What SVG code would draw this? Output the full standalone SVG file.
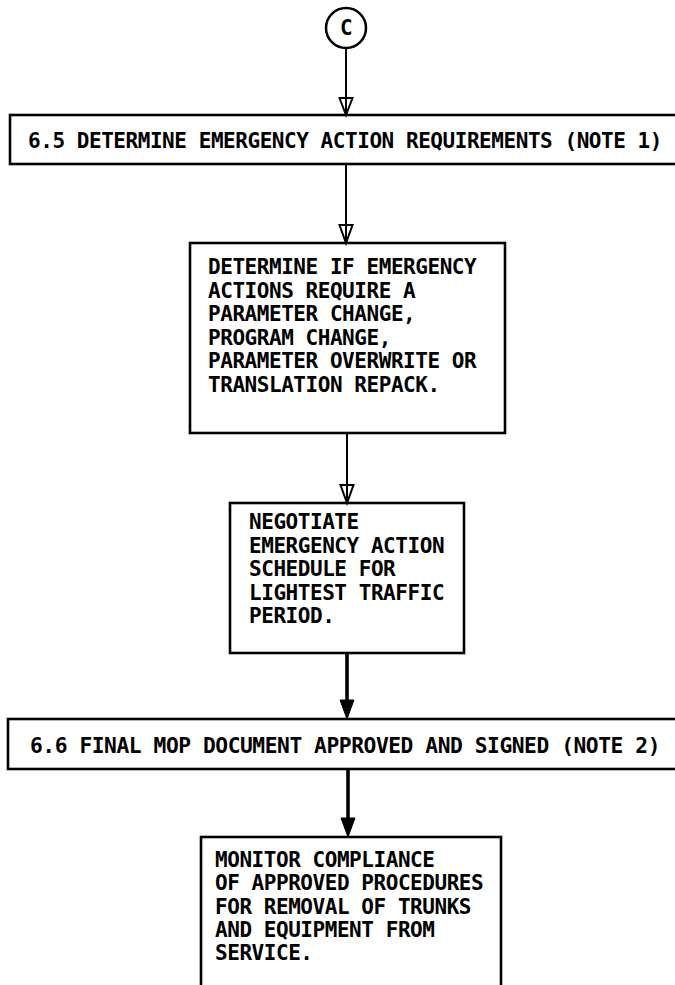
<svg xmlns="http://www.w3.org/2000/svg" width="675" height="985" viewBox="0 0 675 985">
  <style>
    .box { fill: none; stroke: #000; stroke-width: 2.6; }
    .t { font-family: "DejaVu Sans Mono", "Liberation Mono", monospace; font-weight: bold; font-size: 21px; letter-spacing: -0.45px; fill: #000; }
    .thin { stroke: #000; stroke-width: 2; fill: none; }
    .thick { stroke: #000; stroke-width: 3.6; fill: none; }
    .open { fill: none; stroke: #000; stroke-width: 2; stroke-linejoin: miter; }
    .solid { fill: #000; stroke: #000; stroke-width: 1; }
  </style>
  <rect width="675" height="985" fill="#fff"/>

  <!-- connectors -->
  <g id="connectors">
    <line class="thin" x1="346" y1="49" x2="346" y2="114"/>
    <polygon class="open" points="339.5,98 352.5,98 346,115"/>

    <line class="thin" x1="346" y1="164" x2="346" y2="242"/>
    <polygon class="open" points="339.5,225 352.5,225 346,243"/>

    <line class="thin" x1="347" y1="433" x2="347" y2="502"/>
    <polygon class="open" points="340.5,485 353.5,485 347,503"/>

    <line class="thick" x1="347" y1="653" x2="347" y2="705"/>
    <polygon class="solid" points="340,700 354,700 347,719"/>

    <line class="thick" x1="348" y1="769" x2="348" y2="822"/>
    <polygon class="solid" points="341,818 355,818 348,837"/>
  </g>

  <!-- off-page connector C -->
  <g id="connector-c">
    <circle cx="346" cy="28" r="20" fill="#fff" stroke="#000" stroke-width="2.5"/>
    <text class="t" x="346" y="35" font-size="18" letter-spacing="0" text-anchor="middle">C</text>
  </g>

  <!-- 6.5 heading -->
  <g id="step-6-5">
    <rect class="box" x="10" y="115" width="690" height="49"/>
    <text class="t" x="28" y="148" textLength="634" lengthAdjust="spacingAndGlyphs">6.5 DETERMINE EMERGENCY ACTION REQUIREMENTS (NOTE 1)</text>
  </g>

  <!-- determine action type -->
  <g id="determine-actions">
    <rect class="box" x="190" y="243" width="315" height="190"/>
    <text class="t" x="208" y="274">DETERMINE IF EMERGENCY</text>
    <text class="t" x="208" y="297.5">ACTIONS REQUIRE A</text>
    <text class="t" x="208" y="321">PARAMETER CHANGE,</text>
    <text class="t" x="208" y="344.5">PROGRAM CHANGE,</text>
    <text class="t" x="208" y="368">PARAMETER OVERWRITE OR</text>
    <text class="t" x="208" y="391.5">TRANSLATION REPACK.</text>
  </g>

  <!-- negotiate schedule -->
  <g id="negotiate-schedule">
    <rect class="box" x="230" y="503" width="234" height="150"/>
    <text class="t" x="249" y="529">NEGOTIATE</text>
    <text class="t" x="249" y="553">EMERGENCY ACTION</text>
    <text class="t" x="249" y="576">SCHEDULE FOR</text>
    <text class="t" x="249" y="600">LIGHTEST TRAFFIC</text>
    <text class="t" x="249" y="623">PERIOD.</text>
  </g>

  <!-- 6.6 heading -->
  <g id="step-6-6">
    <rect class="box" x="8" y="719" width="692" height="50"/>
    <text class="t" x="30" y="753" textLength="630" lengthAdjust="spacingAndGlyphs">6.6 FINAL MOP DOCUMENT APPROVED AND SIGNED (NOTE 2)</text>
  </g>

  <!-- monitor compliance -->
  <g id="monitor-compliance">
    <rect class="box" x="201" y="837" width="300" height="170"/>
    <text class="t" x="215" y="867">MONITOR COMPLIANCE</text>
    <text class="t" x="215" y="890">OF APPROVED PROCEDURES</text>
    <text class="t" x="215" y="914">FOR REMOVAL OF TRUNKS</text>
    <text class="t" x="215" y="937">AND EQUIPMENT FROM</text>
    <text class="t" x="215" y="960">SERVICE.</text>
  </g>
</svg>
